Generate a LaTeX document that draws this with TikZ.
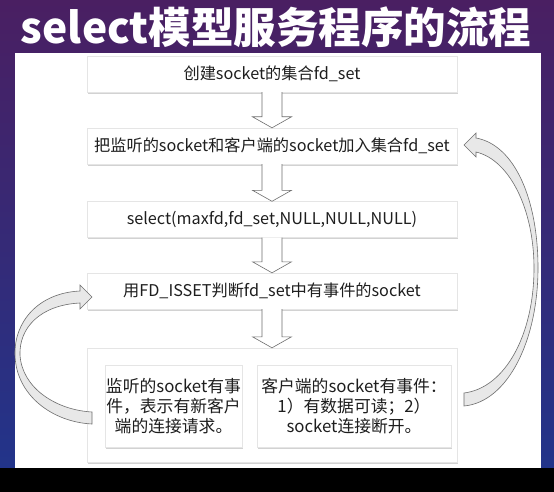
\documentclass[tikz,border=0pt]{standalone}
\usepackage{fontspec}
\setmainfont{Noto Sans CJK SC}
\usetikzlibrary{calc,shadows}
\definecolor{bgtop}{HTML}{4A1F62}
\definecolor{bgbot}{HTML}{22348A}
\definecolor{txt}{HTML}{1E1E1E}
\definecolor{edgegray}{HTML}{6E6E6E}
\tikzset{
  box/.style={draw=gray!20, fill=white, line width=0.4pt, text=txt,
    font=\fontsize{16.2}{19}\selectfont, inner sep=0pt,
    drop shadow={shadow xshift=1.2pt, shadow yshift=-1.8pt, opacity=0.35, fill=gray}},
  wide/.style={box, minimum width=370pt, minimum height=36pt},
  inner/.style={box, minimum height=82pt, align=center, font=\fontsize{16.8}{20}\selectfont},
  hollow/.style={draw=edgegray, fill=white, line width=0.6pt, line join=miter},
  curved/.style={draw=edgegray, fill=gray!18, line width=0.6pt, line join=miter},
}
\newcommand\hollowdown[2]{%
  \draw[hollow] ($(#1.south)+(-10,0)$) -- ($(#2.north)+(-10,-11)$) -- ($(#2.north)+(-19.5,-11)$)
    -- (#2.north) -- ($(#2.north)+(19.5,-11)$) -- ($(#2.north)+(10,-11)$) -- ($(#1.south)+(10,0)$);}
\begin{document}
\begin{tikzpicture}[x=1pt,y=-1pt]
\useasboundingbox (0,0) rectangle (554,492);
% background
\shade[top color=bgtop, bottom color=bgbot] (0,0) rectangle (554,468);
\fill[black] (0,468) rectangle (554,492);
\fill[white] (15,53) rectangle (541,468);
% title
\node[text=white, font=\fontsize{42.5}{46}\selectfont\bfseries] (title) at (276,27) {select模型服务程序的流程};
% boxes
\node[wide] (b1) at (272,74) {创建socket的集合fd\_set};
\node[wide] (b2) at (272,146) {把监听的socket和客户端的socket加入集合fd\_set};
\node[wide] (b3) at (272,219.5) {select(maxfd,fd\_set,NULL,NULL,NULL)};
\node[wide] (b4) at (272,291) {用FD\_ISSET判断fd\_set中有事件的socket};
\node[wide, minimum height=114pt] (b5) at (272,405) {};
\node[inner, minimum width=137pt] (ia) at (173.5,406) {监听的socket有事\\件，表示有新客户\\端的连接请求。};
\node[inner, minimum width=194pt] (ib) at (354,406) {客户端的socket有事件：\\1）有数据可读；2）\\socket连接断开。};
% straight hollow arrows
\hollowdown{b1}{b2}
\hollowdown{b2}{b3}
\hollowdown{b3}{b4}
\hollowdown{b4}{b5}
% left curved arrow: from ia back to b4
\coordinate (ltail) at (92,418);
\coordinate (lhead) at (92,297);
\draw[curved] (80,291) .. controls (38,293) and (14,322) .. (15,355)
  .. controls (16,395) and (52,422) .. ($(ltail)+(0,6)$) -- ($(ltail)+(0,-6)$)
  .. controls (56,410) and (22,388) .. (20,355)
  .. controls (19,328) and (40,305) .. (80,303) -- (80,309) -- (lhead) -- (80,285) -- cycle;
% right curved arrow: from b5 back to b2
\coordinate (rtail) at (464,399.5);
\coordinate (rhead) at (464,145);
\draw[curved] (476,138) .. controls (515,145) and (538,200) .. (538,268)
  .. controls (538,340) and (508,402) .. ($(rtail)+(0,6.5)$) -- ($(rtail)+(0,-6.5)$)
  .. controls (505,388) and (534,335) .. (534,268)
  .. controls (534,210) and (510,160) .. (476,152) -- (476,157) -- (rhead) -- (476,133) -- cycle;
\end{tikzpicture}
\end{document}
